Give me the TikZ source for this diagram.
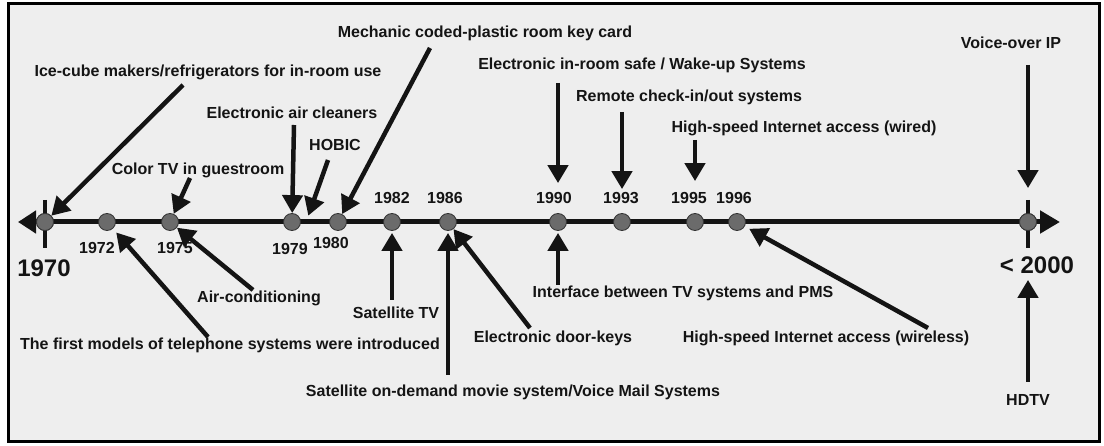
\documentclass[tikz,border=0pt]{standalone}
\usepackage{fontspec}
\setmainfont{Liberation Sans}
\usetikzlibrary{arrows.meta, positioning}

\definecolor{panel}{HTML}{EEEEEE}
\definecolor{dotgray}{HTML}{6B6B6B}
\definecolor{ink}{HTML}{141414}

\begin{document}
\begin{tikzpicture}[
    x=1pt, y=-1pt,
    event/.style={circle, draw=black!80, line width=0.8pt, fill=dotgray, minimum size=17pt, inner sep=0pt},
    year/.style={font=\fontsize{16}{18}\selectfont\bfseries, text=ink, inner sep=1pt},
    bigyear/.style={font=\fontsize{24}{28}\selectfont\bfseries, text=ink, inner sep=1pt},
    note/.style={font=\fontsize{16}{19}\selectfont\bfseries, text=ink, inner sep=1pt},
    pointer/.style={draw=ink, line width=4.5pt, -{Triangle[length=18pt,width=20pt]}},
    axisline/.style={draw=ink, line width=5pt, {Triangle[length=18pt,width=22pt]}-{Triangle[length=20pt,width=22pt]}},
    yeartick/.style={draw=ink, line width=4.5pt}
]
    \useasboundingbox (0,0) rectangle (1104,446);
    \fill[white] (0,0) rectangle (1104,446);
    \draw[line width=3pt, fill=panel] (8.5,3.5) rectangle (1099.5,441.5);

    % time axis
    \coordinate (ax-l) at (18,222);
    \coordinate (ax-r) at (1060,222);
    \draw[axisline] (ax-l) -- (ax-r);

    % events on the axis
    \node[event] (d70) at (45,222) {};
    \node[event] (d72) at (107,222) {};
    \node[event] (d75) at (170,222) {};
    \node[event] (d79) at (292,222) {};
    \node[event] (d80) at (338,222) {};
    \node[event] (d82) at (392,222) {};
    \node[event] (d86) at (448,222) {};
    \node[event] (d90) at (558,222) {};
    \node[event] (d93) at (622,222) {};
    \node[event] (d95) at (695,222) {};
    \node[event] (d96) at (737,222) {};
    \draw[yeartick] ([yshift=22pt]d70.center) -- ([yshift=-26pt]d70.center);
    \node[event] (d00) at (1028,222) {};
    \draw[yeartick] ([yshift=22pt]d00.center) -- ([yshift=-26pt]d00.center);
    \node[event] at (d70) {};
    \node[event] at (d00) {};

    % years
    \node[bigyear] (y70) at (44,268) {1970};
    \node[year] (y72) at (97,248) {1972};
    \node[year] (y75) at (175,248) {1975};
    \node[year] (y79) at (290,249) {1979};
    \node[year] (y80) at (331,243) {1980};
    \node[year] (y82) at (392,198) {1982};
    \node[year] (y86) at (445,198) {1986};
    \node[year] (y90) at (554,198) {1990};
    \node[year] (y93) at (621,198) {1993};
    \node[year] (y95) at (689,198) {1995};
    \node[year] (y96) at (734,198) {1996};
    \node[bigyear] (y00) at (1037,265) {< 2000};

    % above the axis
    \node[note] (ice) at (208,72) {Ice-cube makers/refrigerators for in-room use};
    \node[note] (mech) at (485,33) {Mechanic coded-plastic room key card};
    \node[note] (clean) at (292,113) {Electronic air cleaners};
    \node[note] (hobic) at (335,145) {HOBIC};
    \node[note] (color) at (198,170) {Color TV in guestroom};
    \node[note] (safe) at (642,65) {Electronic in-room safe / Wake-up Systems};
    \node[note] (remote) at (689,97) {Remote check-in/out systems};
    \node[note] (wired) at (804,128) {High-speed Internet access (wired)};
    \node[note] (voice) at (1011,43) {Voice-over IP};

    \coordinate (ice-a) at (183,85);
    \coordinate (mech-a) at (430,48);
    \coordinate (clean-a) at (294,125);
    \coordinate (hobic-a) at (328,160);
    \coordinate (color-a) at (190,178);
    \coordinate (safe-a) at (558,83);
    \coordinate (remote-a) at (622,112);
    \coordinate (wired-a) at (695,140);
    \coordinate (voice-a) at (1028,65);

    \draw[pointer] (ice-a) -- (d70);
    \draw[pointer] (mech-a) -- (d80);
    \draw[pointer] (clean-a) -- (d79);
    \draw[pointer] (hobic-a) -- ([xshift=10pt]d79.north east);
    \draw[pointer] (color-a) -- (d75);
    \draw[pointer, shorten >=30pt] (safe-a) -- (d90);
    \draw[pointer, shorten >=24pt] (remote-a) -- (d93);
    \draw[pointer, shorten >=32pt] (wired-a) -- (d95);
    \draw[pointer, shorten >=25pt] (voice-a) -- (d00);

    % below the axis
    \node[note] (air) at (259,298) {Air-conditioning};
    \node[note] (phone) at (230,345) {The first models of telephone systems were introduced};
    \node[note] (sattv) at (396,313) {Satellite TV};
    \node[note] (door) at (553,338) {Electronic door-keys};
    \node[note] (demand) at (513,392) {Satellite on-demand movie system/Voice Mail Systems};
    \node[note] (pms) at (683,293) {Interface between TV systems and PMS};
    \node[note] (wireless) at (826,338) {High-speed Internet access (wireless)};
    \node[note] (hdtv) at (1028,400) {HDTV};

    \coordinate (air-a) at (253,290);
    \coordinate (phone-a) at (208,337);
    \coordinate (sattv-a) at (392,300);
    \coordinate (demand-a) at (448,375);
    \coordinate (door-a) at (530,328);
    \coordinate (pms-a) at (558,285);
    \coordinate (wireless-a) at (928,328);
    \coordinate (hdtv-a) at (1028,382);

    \draw[pointer] (air-a) -- (d75);
    \draw[pointer, shorten >=5pt] (phone-a) -- (d72);
    \draw[pointer, shorten >=2pt] (sattv-a) -- (d82);
    \draw[pointer, shorten >=2pt] (demand-a) -- (d86);
    \draw[pointer] (door-a) -- (d86);
    \draw[pointer, shorten >=2pt] (pms-a) -- (d90);
    \draw[pointer, shorten >=5pt] (wireless-a) -- (d96);
    \draw[pointer, shorten >=49pt] (hdtv-a) -- (d00);
\end{tikzpicture}
\end{document}
